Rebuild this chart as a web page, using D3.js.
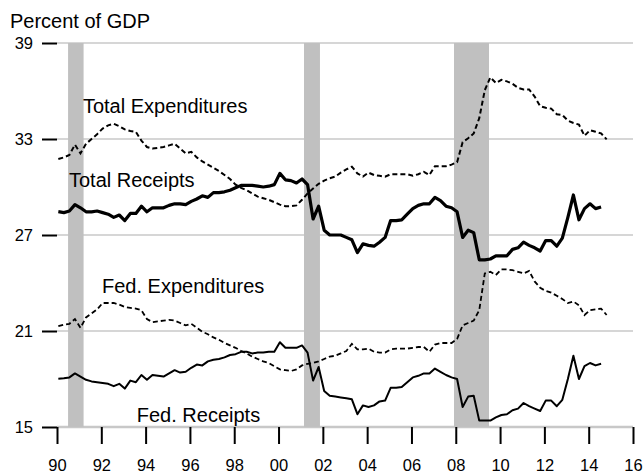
<!DOCTYPE html>
<html>
<head>
<meta charset="utf-8">
<script src="https://cdn.jsdelivr.net/npm/d3@7/dist/d3.min.js"></script>
<style>
  html, body { margin: 0; padding: 0; background: #fff; }
  svg { display: block; }
  text { font-family: "Liberation Sans", Arial, sans-serif; fill: #000; }
</style>
</head>
<body>
<svg id="chart" width="644" height="474"></svg>
<script>
// Quarterly data, first point 1990 Q1, percent of GDP
const startYear = 1990;
const totalReceipts = [
  28.46, 28.4, 28.5, 28.9, 28.7, 28.45, 28.45, 28.5, 28.4, 28.3,
  28.1, 28.25, 27.9, 28.35, 28.35, 28.8, 28.45, 28.7, 28.7, 28.7,
  28.85, 28.95, 28.95, 28.9, 29.1, 29.25, 29.45, 29.35, 29.65, 29.65,
  29.7, 29.8, 29.95, 30.1, 30.1, 30.1, 30.05, 30.0, 30.05, 30.15,
  30.85, 30.45, 30.4, 30.25, 30.5, 30.15, 28.0, 28.8, 27.3, 27.0,
  27.0, 27.0, 26.85, 26.7, 25.9, 26.45, 26.35, 26.3, 26.55, 26.85,
  27.9, 27.9, 27.95, 28.3, 28.65, 28.85, 28.95, 28.95, 29.35, 29.15,
  28.8, 28.7, 28.45, 26.85, 27.3, 27.15, 25.45, 25.45, 25.5, 25.7,
  25.7, 25.7, 26.1, 26.2, 26.55, 26.35, 26.2, 26.0, 26.65, 26.65,
  26.3, 26.8, 28.1, 29.5, 27.95, 28.65, 28.95, 28.65, 28.75
];
const totalExpenditures = [
  31.75, 31.85, 32.0, 32.65, 32.1, 32.7, 33.0, 33.3, 33.65, 33.85,
  33.95, 33.8, 33.6, 33.5, 33.45, 32.9, 32.5, 32.4, 32.45, 32.5,
  32.6, 32.7, 32.4, 32.1, 32.2, 31.85, 31.6, 31.4, 31.2, 31.0,
  30.75, 30.5, 30.15, 29.95, 29.8, 29.6, 29.4, 29.3, 29.2, 29.05,
  28.9, 28.8, 28.8, 28.85, 29.2, 29.6, 29.9, 30.2, 30.4, 30.55,
  30.65, 30.9, 31.1, 31.27, 30.85, 30.65, 30.9, 30.75, 30.7, 30.65,
  30.8, 30.8, 30.8, 30.8, 30.7, 30.8, 30.95, 30.75, 31.3, 31.3,
  31.3, 31.4, 31.55, 32.8, 33.05, 33.35, 34.3, 36.05, 36.85, 36.5,
  36.7, 36.6, 36.45, 36.2, 36.1, 36.1, 35.65, 35.05, 34.95, 34.9,
  34.55, 34.5, 34.15, 34.0, 33.9, 33.2, 33.55, 33.45, 33.35, 32.98
];
const fedReceipts = [
  18.02, 18.05, 18.1, 18.35, 18.15, 17.95, 17.85, 17.8, 17.75, 17.7,
  17.55, 17.7, 17.4, 17.9, 17.8, 18.25, 17.95, 18.25, 18.2, 18.15,
  18.35, 18.55, 18.4, 18.45, 18.7, 18.9, 18.85, 19.1, 19.2, 19.25,
  19.35, 19.5, 19.55, 19.7, 19.7, 19.6, 19.65, 19.65, 19.7, 19.7,
  20.3, 19.95, 19.95, 19.95, 20.1, 19.65, 17.9, 18.75, 17.25, 16.95,
  16.9, 16.85, 16.8, 16.73, 15.8, 16.35, 16.25, 16.35, 16.6, 16.65,
  17.45, 17.45, 17.5, 17.8, 18.1, 18.2, 18.35, 18.35, 18.65, 18.45,
  18.25, 18.1, 18.0, 16.25, 16.9, 16.95, 15.4, 15.4, 15.4, 15.6,
  15.75, 15.8, 16.05, 16.15, 16.5, 16.3, 16.15, 16.0, 16.65, 16.65,
  16.3, 16.7, 18.0, 19.45, 18.0, 18.8, 19.0, 18.85, 18.95
];
const fedExpenditures = [
  21.3, 21.4, 21.45, 21.75, 21.2, 21.85, 22.1, 22.35, 22.75, 22.75,
  22.75, 22.65, 22.5, 22.45, 22.4, 22.3, 21.75, 21.55, 21.6, 21.65,
  21.7, 21.65, 21.5, 21.35, 21.45, 21.2, 20.95, 20.8, 20.6, 20.45,
  20.25, 20.1, 19.95, 19.75, 19.6, 19.4, 19.25, 19.1, 19.0, 18.8,
  18.6, 18.55, 18.5, 18.6, 18.85, 18.95, 19.0, 19.1, 19.25, 19.4,
  19.45, 19.6, 19.75, 20.2, 19.85, 19.85, 19.9, 19.7, 19.65, 19.65,
  19.85, 19.9, 19.9, 19.9, 19.95, 20.0, 20.0, 19.7, 20.15, 20.25,
  20.25, 20.25, 20.5, 21.35, 21.5, 21.65, 22.3, 24.6, 24.7, 24.5,
  24.85, 24.85, 24.8, 24.7, 24.6, 24.75, 24.1, 23.7, 23.5, 23.4,
  23.2, 23.0, 22.75, 22.85, 22.6, 22.0, 22.3, 22.35, 22.4, 22.0
];
// Recession periods (decimal years)
const recessions = [[1990.5, 1991.2], [2001.15, 2001.87], [2007.92, 2009.5]];
const yTicks = [15, 21, 27, 33, 39];
const xTickYears = [1990, 1992, 1994, 1996, 1998, 2000, 2002, 2004, 2006, 2008, 2010, 2012, 2014, 2016];
const xTickLabels = ["90", "92", "94", "96", "98", "00", "02", "04", "06", "08", "10", "12", "14", "16"];
const seriesLabels = [
  { text: "Total Expenditures", year: 1991.17, value: 34.6 },
  { text: "Total Receipts", year: 1990.54, value: 30.0 },
  { text: "Fed. Expenditures", year: 1992.03, value: 23.4 },
  { text: "Fed. Receipts", year: 1993.6, value: 15.3 }
];

const svg = d3.select("#chart");
const x = d3.scaleLinear().domain([1990, 2016]).range([57, 633]);
const y = d3.scaleLinear().domain([15, 39]).range([427, 43]);
const t = i => startYear + i / 4 + 0.06;

// gridlines
svg.append("g").selectAll("line").data(yTicks).join("line")
  .attr("x1", x(1990)).attr("x2", x(2016))
  .attr("y1", d => y(d)).attr("y2", d => y(d))
  .attr("stroke", "#c8c8c8").attr("stroke-width", d => d === 15 ? 2.5 : 1.6);

// recession bands
svg.append("g").selectAll("rect").data(recessions).join("rect")
  .attr("x", d => x(d[0])).attr("width", d => x(d[1]) - x(d[0]))
  .attr("y", y(39)).attr("height", y(15) - y(39))
  .attr("fill", "#c0c0c0");

// y axis
const yAxis = d3.axisLeft(y).tickValues(yTicks).tickSize(15).tickPadding(9).tickFormat(d3.format("d"));
const gy = svg.append("g").attr("transform", `translate(${x(1990)},0)`).call(yAxis);
gy.select(".domain").remove();
gy.selectAll(".tick line").attr("stroke", "#000").attr("stroke-width", 2);
gy.selectAll(".tick text").attr("font-size", 16.5).attr("font-family", '"Liberation Sans", Arial, sans-serif').attr("fill", "#000");

// x axis
const xAxis = d3.axisBottom(x).tickValues(xTickYears).tickSize(17).tickPadding(15)
  .tickFormat((d, i) => xTickLabels[i]);
const gx = svg.append("g").attr("transform", `translate(0,${y(15)})`).call(xAxis);
gx.select(".domain").remove();
gx.selectAll(".tick line").attr("stroke", "#000").attr("stroke-width", 2);
gx.selectAll(".tick text").attr("font-size", 16.5).attr("font-family", '"Liberation Sans", Arial, sans-serif').attr("fill", "#000");

const line = d3.line().x((d, i) => x(t(i))).y(d => y(d));

svg.append("path").datum(totalExpenditures).attr("d", line)
  .attr("fill", "none").attr("stroke", "#000").attr("stroke-width", 2).attr("stroke-dasharray", "5,3");
svg.append("path").datum(fedExpenditures).attr("d", line)
  .attr("fill", "none").attr("stroke", "#000").attr("stroke-width", 1.8).attr("stroke-dasharray", "5,3");
svg.append("path").datum(totalReceipts).attr("d", line)
  .attr("fill", "none").attr("stroke", "#000").attr("stroke-width", 3.2).attr("stroke-linejoin", "round");
svg.append("path").datum(fedReceipts).attr("d", line)
  .attr("fill", "none").attr("stroke", "#000").attr("stroke-width", 2).attr("stroke-linejoin", "round");

// series labels
svg.append("g").selectAll("text").data(seriesLabels).join("text")
  .attr("x", d => x(d.year)).attr("y", d => y(d.value))
  .attr("font-size", 20).text(d => d.text);

// axis title
svg.append("text").attr("x", 10).attr("y", 28).attr("font-size", 20).text("Percent of GDP");
</script>
</body>
</html>
